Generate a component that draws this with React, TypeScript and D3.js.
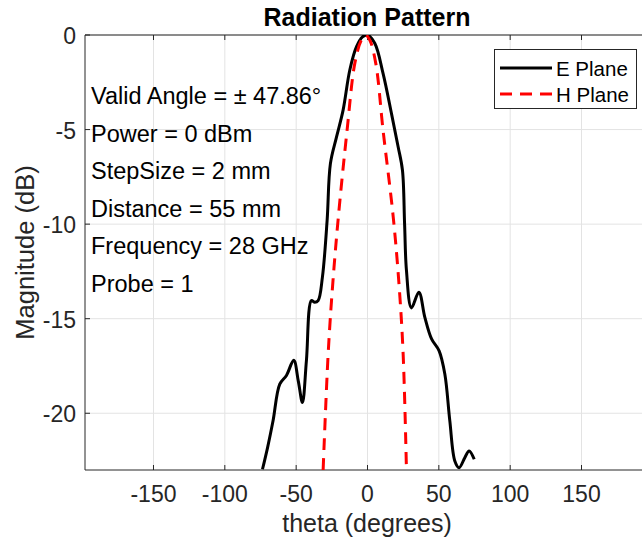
import React from "react";
import * as d3 from "d3";

const eTheta = [-73.6, -70, -66.2, -61.5, -56.8, -51.7, -48.5, -45.6, -42.8, -39.3, -37, -34.6, -31.6, -28.3, -26, -21.7, -17.1, -12.4, -7.7, -3.5, 0, 5.1, 10.9, 16.8, 21.5, 24.5, 26.0, 27.3, 30.8, 36, 40.2, 44.9, 50.2, 54.2, 57.7, 61.2, 64.2, 68.2, 71.2, 74.8];
const eDb = [-22.96, -21.8, -20.4, -18.46, -18.0, -17.2, -18.3, -19.43, -17.2, -14.04, -14.13, -14.04, -12.8, -9.8, -6.8, -5.39, -3.97, -1.85, -0.62, -0.1, 0, -0.44, -2.03, -4.15, -5.92, -7.15, -10.0, -12.45, -14.43, -13.6, -14.93, -16.07, -16.7, -17.93, -20.4, -22.52, -22.88, -22.35, -21.99, -22.43];

const hTheta = [-31.1, -27.6, -24.5, -20.4, -14.3, -8.9, -4.5, -1.5, 1.5, 5.8, 10.9, 18, 22.2, 25, 27.3];
const hDb = [-23, -16.9, -13.3, -9.6, -5.03, -1.5, -0.3, 0, -0.25, -1.5, -5.03, -9.6, -13.3, -16.9, -23];

const xTicks = [-150, -100, -50, 0, 50, 100, 150];
const yTicks = [0, -5, -10, -15, -20];
const annotations = [
  "Valid Angle = \u00B1 47.86\u00B0",
  "Power = 0 dBm",
  "StepSize = 2 mm",
  "Distance = 55 mm",
  "Frequency = 28 GHz",
  "Probe = 1",
];
const seriesNames = ["E Plane", "H Plane"];

const W = 642, H = 542;
const left = 85, top = 35, bottom = 470, right = 650;
const font = "'Liberation Sans', Arial, Helvetica, sans-serif";
const axisColor = "#262626";
const gridColor = "#e3e3e3";

export default function App() {
  const x = d3.scaleLinear().domain([-198, 198]).range([left, right]);
  const y = d3.scaleLinear().domain([-23, 0]).range([bottom, top]);
  const line = d3
    .line<[number, number]>()
    .x((d) => x(d[0]))
    .y((d) => y(d[1]))
    .curve(d3.curveCatmullRom.alpha(0.5));
  const eData = eTheta.map((t, i) => [t, eDb[i]] as [number, number]);
  const hData = hTheta.map((t, i) => [t, hDb[i]] as [number, number]);

  return (
    <svg width={W} height={H} style={{ position: "absolute", left: 0, top: 0, background: "#fff" }} fontFamily={font}>
      <defs>
        <clipPath id="plotclip">
          <rect x={left} y={top} width={right - left} height={bottom - top} />
        </clipPath>
      </defs>
      <rect x={0} y={0} width={W} height={H} fill="#fff" />
      {/* grid */}
      {xTicks.map((t) => (
        <line key={"gx" + t} x1={x(t)} x2={x(t)} y1={top} y2={bottom} stroke={gridColor} strokeWidth={1} />
      ))}
      {yTicks.map((t) => (
        <line key={"gy" + t} x1={left} x2={right} y1={y(t)} y2={y(t)} stroke={gridColor} strokeWidth={1} />
      ))}
      {/* axes frame */}
      <line x1={left} x2={right} y1={top} y2={top} stroke={axisColor} strokeWidth={1} />
      <line x1={left} x2={right} y1={bottom} y2={bottom} stroke={axisColor} strokeWidth={1} />
      <line x1={left} x2={left} y1={top} y2={bottom} stroke={axisColor} strokeWidth={1} />
      {/* ticks */}
      {xTicks.map((t) => (
        <g key={"tx" + t}>
          <line x1={x(t)} x2={x(t)} y1={bottom} y2={bottom - 5} stroke={axisColor} />
          <line x1={x(t)} x2={x(t)} y1={top} y2={top + 5} stroke={axisColor} />
          <text x={x(t)} y={494} textAnchor="middle" dominantBaseline="central" fontSize={23} fill={axisColor}>
            {t}
          </text>
        </g>
      ))}
      {yTicks.map((t) => (
        <g key={"ty" + t}>
          <line x1={left} x2={left + 5} y1={y(t)} y2={y(t)} stroke={axisColor} />
          <text x={left - 9} y={y(t) + 1} textAnchor="end" dominantBaseline="central" fontSize={23} fill={axisColor}>
            {t}
          </text>
        </g>
      ))}
      {/* labels */}
      <text x={367} y={523} textAnchor="middle" dominantBaseline="central" fontSize={25} fill={axisColor}>
        theta (degrees)
      </text>
      <text
        transform={`translate(25,${(top + bottom) / 2}) rotate(-90)`}
        textAnchor="middle"
        dominantBaseline="central"
        fontSize={25.5}
        fill={axisColor}
      >
        Magnitude (dB)
      </text>
      <text x={367} y={17} textAnchor="middle" dominantBaseline="central" fontSize={25} fontWeight="bold" fill="#000">
        Radiation Pattern
      </text>
      {/* annotations */}
      {annotations.map((a, i) => (
        <text key={a} x={91} y={96 + i * 37.6} dominantBaseline="central" fontSize={23.5} fill="#000">
          {a}
        </text>
      ))}
      {/* series */}
      <g clipPath="url(#plotclip)">
        <path d={line(eData) || ""} fill="none" stroke="#000" strokeWidth={3} strokeLinejoin="round" />
        <path d={line(hData) || ""} fill="none" stroke="#ff0000" strokeWidth={3} strokeDasharray="12,8" />
      </g>
      {/* legend */}
      <g>
        <rect x={494.5} y={49.5} width={142} height={59} fill="#fff" stroke={axisColor} strokeWidth={1} />
        <line x1={500} x2={552} y1={68} y2={68} stroke="#000" strokeWidth={3} />
        <line x1={500} x2={552} y1={94} y2={94} stroke="#ff0000" strokeWidth={3} strokeDasharray="12,8" />
        <text x={556} y={68} dominantBaseline="central" fontSize={20.5} fill="#000">
          {seriesNames[0]}
        </text>
        <text x={556} y={94} dominantBaseline="central" fontSize={20.5} fill="#000">
          {seriesNames[1]}
        </text>
      </g>
    </svg>
  );
}
